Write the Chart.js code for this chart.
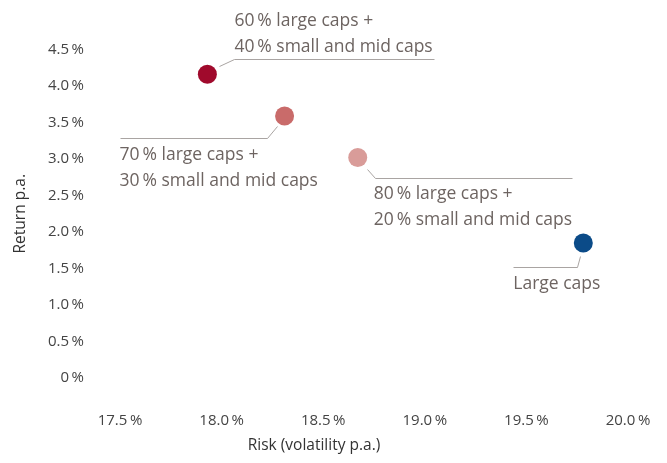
<!DOCTYPE html>
<html>
<head>
<meta charset="utf-8">
<script src="https://cdn.jsdelivr.net/npm/chart.js@4/dist/chart.umd.min.js"></script>
<style>
  html, body { margin: 0; padding: 0; background: #fff; }
  #wrap { width: 667px; height: 463px; }
</style>
</head>
<body>
<div id="wrap"><canvas id="riskChart"></canvas></div>
<script>
const portfolios = [
    ['60\u2009% large caps +', '40\u2009% small and mid caps'],
    ['70\u2009% large caps +', '30\u2009% small and mid caps'],
    ['80\u2009% large caps +', '20\u2009% small and mid caps'],
    ['Large caps']
];
const riskValues = [17.93, 18.31, 18.67, 19.78];
const returnValues = [4.16, 3.59, 3.02, 1.85];
const dotColors = ['#a00a2c', '#c96b6a', '#d99c99', '#0b4b88'];
const xTicks = [17.5, 18.0, 18.5, 19.0, 19.5, 20.0];
const yTicks = [0, 0.5, 1.0, 1.5, 2.0, 2.5, 3.0, 3.5, 4.0, 4.5];

// leader line (elbow) and text placement, offsets from each dot in px
const callouts = [
    { path: [[12, -8], [27, -15], [227, -15]], tx: 27, ty: -48 },
    { path: [[-8, 10], [-18, 22], [-165, 22]], tx: -165, ty: 44 },
    { path: [[9, 11], [17, 20], [214, 20]], tx: 16, ty: 41 },
    { path: [[-3, 13], [-6, 24], [-70, 24]], tx: -70, ty: 46 }
];

const FONT = '"Open Sans", sans-serif';
const fmt = v => (v === 0 ? '0' : v.toFixed(1)) + '\u2009%';

const calloutPlugin = {
    id: 'callouts',
    afterDatasetsDraw(chart) {
        const ctx = chart.ctx;
        const points = chart.getDatasetMeta(0).data;
        ctx.save();
        ctx.strokeStyle = '#a9a4a2';
        ctx.lineWidth = 1;
        ctx.fillStyle = '#6d6461';
        ctx.font = '17.5px ' + FONT;
        ctx.textAlign = 'left';
        ctx.textBaseline = 'alphabetic';
        points.forEach((pt, i) => {
            const c = callouts[i];
            ctx.beginPath();
            c.path.forEach(([dx, dy], k) => {
                const px = Math.round(pt.x + dx) + 0.5, py = Math.round(pt.y + dy) + 0.5;
                if (k === 0) ctx.moveTo(px, py); else ctx.lineTo(px, py);
            });
            ctx.stroke();
            portfolios[i].forEach((line, j) => {
                ctx.fillText(line, pt.x + c.tx, pt.y + c.ty + j * 26);
            });
        });
        ctx.restore();
    }
};

const axisTitles = {
    id: 'axisTitles',
    afterDraw(chart) {
        const ctx = chart.ctx;
        const area = chart.chartArea;
        ctx.save();
        ctx.fillStyle = '#333';
        ctx.font = '15.5px ' + FONT;
        ctx.textAlign = 'center';
        ctx.textBaseline = 'middle';
        ctx.fillText('Risk (volatility p.a.)', area.right / 2, chart.height - 17);
        ctx.translate(21, (area.top + area.bottom) / 2);
        ctx.rotate(-Math.PI / 2);
        ctx.fillText('Return p.a.', 0, 0);
        ctx.restore();
    }
};

new Chart(document.getElementById('riskChart'), {
    type: 'scatter',
    data: {
        datasets: [{
            data: riskValues.map((x, i) => ({ x: x, y: returnValues[i] })),
            backgroundColor: dotColors,
            borderWidth: 0,
            pointRadius: 9.5,
            pointHoverRadius: 9.5
        }]
    },
    options: {
        responsive: true,
        maintainAspectRatio: false,
        animation: false,
        layout: { padding: { top: 49.5, right: 39, left: 0, bottom: 0 } },
        plugins: {
            legend: { display: false },
            tooltip: { enabled: false }
        },
        scales: {
            x: {
                type: 'linear',
                min: 17.5,
                max: 20.0,
                border: { display: false },
                // invisible tick marks keep the labels clear of the plot
                grid: { display: false, drawTicks: true, tickLength: 34 },
                afterBuildTicks: s => { s.ticks = xTicks.map(v => ({ value: v })); },
                afterFit: s => { s.height = 85; },
                ticks: {
                    padding: 0,
                    color: '#444',
                    font: { family: FONT, size: 15 },
                    callback: v => fmt(v)
                }
            },
            y: {
                type: 'linear',
                min: 0,
                max: 4.5,
                border: { display: false },
                grid: { display: false, drawTicks: true, tickLength: 36 },
                afterBuildTicks: s => { s.ticks = yTicks.map(v => ({ value: v })); },
                afterFit: s => { s.width = 120; },
                ticks: {
                    padding: 0,
                    color: '#444',
                    font: { family: FONT, size: 15 },
                    callback: v => fmt(v)
                }
            }
        }
    },
    plugins: [calloutPlugin, axisTitles]
});
</script>
</body>
</html>
